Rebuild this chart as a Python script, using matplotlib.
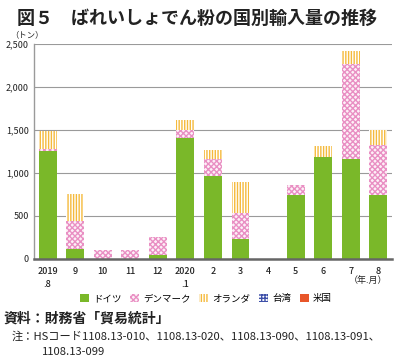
import matplotlib
matplotlib.use("Agg")
import matplotlib.pyplot as plt
import numpy as np

plt.rcParams['font.family'] = ['Noto Sans CJK JP', 'DejaVu Sans']
plt.rcParams['hatch.linewidth'] = 1.0

# data (tons)
months = ["2019\n.8", "9", "10", "11", "12", "2020\n.1", "2", "3", "4", "5", "6", "7", "8"]
germany = [1255, 110, 0, 0, 40, 1405, 965, 235, 0, 745, 1185, 1160, 745]
denmark = [20, 330, 100, 100, 210, 100, 200, 295, 0, 110, 0, 1105, 580]
netherlands = [210, 310, 0, 0, 0, 110, 100, 360, 0, 10, 125, 150, 175]
taiwan = [0] * 13
usa = [0] * 13

series = [
    ("ドイツ", germany, dict(color="#7AB829")),
    ("デンマーク", denmark, dict(facecolor="#FDF0F7", edgecolor="#E98FC3", hatch="xxxxxx", linewidth=0)),
    ("オランダ", netherlands, dict(facecolor="white", edgecolor="#F5BA3C", hatch="||||||", linewidth=0)),
    ("台湾", taiwan, dict(facecolor="white", edgecolor="#3D4FA8", hatch="+++++", linewidth=0)),
    ("米国", usa, dict(color="#E8562A")),
]

fig = plt.figure(figsize=(3.94, 3.58), dpi=100)
ax = fig.add_axes([0.086, 0.277, 0.909, 0.600])

x = np.arange(len(months))
bottom = np.zeros(len(months))
for name, vals, style in series:
    ax.bar(x, vals, 0.65, bottom=bottom, label=name, **style)
    bottom += np.array(vals)

ax.set_xlim(-0.5, len(months) - 0.5)
ax.set_ylim(0, 2500)
ax.set_yticks(range(0, 2501, 500))
ax.set_yticklabels(["0", "500", "1,000", "1,500", "2,000", "2,500"])
ax.yaxis.grid(True, color="#9a9a9a", linewidth=0.8)
ax.set_axisbelow(True)
ax.set_xticks(x)
ax.set_xticklabels(months, linespacing=1.5, fontweight="medium")
ax.tick_params(axis="both", length=0, labelsize=6.5, colors="#222222")
ax.tick_params(axis="x", pad=6)
for s in ["top", "right"]:
    ax.spines[s].set_visible(False)
ax.spines["left"].set_color("#9a9a9a")
ax.spines["left"].set_linewidth(1.0)
ax.spines["bottom"].set_color("#666666")
ax.spines["bottom"].set_linewidth(1.8)

fig.text(0.5, 0.975, "図５　ばれいしょでん粉の国別輸入量の推移", ha="center", va="top",
         fontsize=13, fontweight="bold", color="#222222")
fig.text(0.025, 0.895, "（トン）", fontsize=6, color="#222222")
fig.text(0.935, 0.21, "（年.月）", fontsize=6.5, color="#222222", ha="center")

ax.legend(loc="upper center", bbox_to_anchor=(0.48, -0.145), ncol=5, frameon=False,
          fontsize=6.8, handlelength=1.0, handleheight=1.0, handletextpad=0.4,
          columnspacing=0.9, borderaxespad=0)

fig.text(0.008, 0.1, "資料：財務省「貿易統計」", fontsize=10, fontweight="bold", color="#222222")
fig.text(0.03, 0.05, "注：HSコード1108.13-010、1108.13-020、1108.13-090、1108.13-091、",
         fontsize=8.1, color="#222222")
fig.text(0.107, 0.008, "1108.13-099", fontsize=8.1, color="#222222")

fig.savefig("out.png", dpi=100)
